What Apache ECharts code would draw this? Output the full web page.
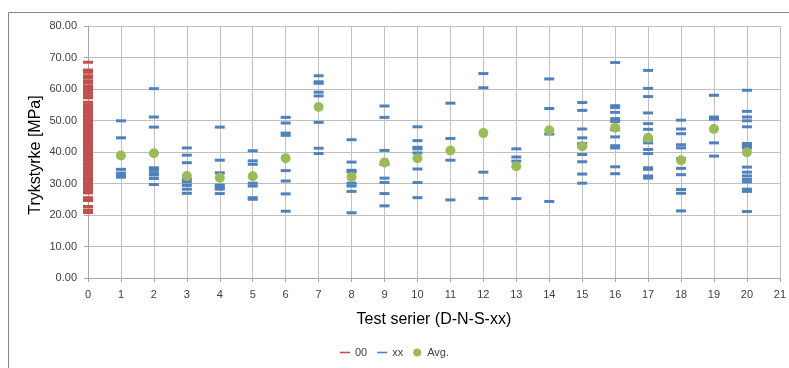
<!DOCTYPE html>
<html>
<head>
<meta charset="utf-8">
<script src="https://cdn.jsdelivr.net/npm/echarts@6/dist/echarts.min.js"></script>
<style>html,body{margin:0;padding:0;background:#fff}#c{width:789px;height:368px}</style>
</head>
<body>
<div id="c"></div>
<script>
// ---- data ----
var seriesNames = ['00', 'xx', 'Avg.'];
var yTitle = 'Trykstyrke [MPa]';
var xTitle = 'Test serier (D-N-S-xx)';
var yTicks = [0, 10, 20, 30, 40, 50, 60, 70, 80];
var xTicks = [0,1,2,3,4,5,6,7,8,9,10,11,12,13,14,15,16,17,18,19,20,21];

var ref00 = [68.5, 66.0, 65.3, 64.2, 63.6, 62.6, 62.0, 61.0, 60.4, 59.6, 58.8, 57.9, 57.2,
  55.8, 55.0, 54.2, 53.4, 52.6, 51.8, 51.0, 50.2, 49.4, 48.6, 47.8, 47.0, 46.2, 45.4, 44.6,
  43.8, 43.0, 42.2, 41.4, 40.6, 39.8, 39.0, 38.2, 37.4, 36.6, 35.8, 35.0, 34.2, 33.4, 32.6,
  31.8, 31.0, 30.2, 29.4, 28.6, 27.8, 27.0, 25.5, 24.6, 22.7, 21.6, 20.8];

var xx1 = [49.9, 44.5, 34.5, 33.3, 32.5, 32.0];
var xx2 = [60.1, 51.1, 47.9, 35.0, 34.3, 33.4, 32.7, 31.6, 29.7];
var xx3 = [41.3, 39.0, 36.6, 31.3, 30.5, 29.4, 28.2, 26.9];
var xx4 = [47.9, 37.4, 33.4, 29.5, 28.9, 28.2, 26.8];
var xx5 = [40.4, 37.2, 36.1, 30.1, 29.2, 25.5, 25.0];
var xx6 = [51.0, 49.2, 46.0, 45.3, 34.1, 30.8, 26.7, 21.2];
var xx7 = [64.2, 62.3, 61.8, 59.0, 57.8, 49.4, 41.2, 39.5];
var xx8 = [43.9, 36.8, 34.2, 33.7, 30.1, 29.2, 27.5, 20.7];
var xx9 = [54.6, 51.0, 40.5, 36.1, 31.7, 30.3, 26.8, 22.9];
var xx10 = [48.0, 43.6, 41.5, 41.0, 39.7, 34.6, 30.3, 25.5];
var xx11 = [55.5, 44.3, 37.4, 24.8];
var xx12 = [64.9, 60.4, 33.6, 25.3];
var xx13 = [41.0, 38.4, 37.1, 25.2];
var xx14 = [63.2, 53.8, 45.7, 24.3];
var xx15 = [55.7, 53.2, 47.3, 44.5, 42.7, 41.8, 39.2, 36.9, 33.0, 30.1];
var xx16 = [68.4, 54.7, 54.1, 52.6, 50.6, 49.7, 47.1, 44.8, 42.0, 41.3, 35.3, 33.1];
var xx17 = [65.9, 60.2, 57.6, 52.4, 49.0, 47.2, 43.9, 42.9, 40.8, 39.5, 35.0, 34.5, 32.4, 31.7];
var xx18 = [50.1, 47.3, 45.8, 42.3, 41.3, 37.9, 34.8, 32.8, 28.1, 26.9, 21.3];
var xx19 = [58.0, 51.1, 50.4, 42.9, 38.7];
var xx20 = [59.6, 52.9, 51.1, 49.9, 48.0, 42.7, 42.0, 41.3, 35.2, 33.6, 32.4, 31.3, 30.5, 28.2, 27.5, 21.1];

var avgX = [1,2,3,4,5,6,7,8,9,10,11,12,13,14,15,16,17,18,19,20];
var avgY = [38.9, 39.6, 32.4, 31.8, 32.3, 38.0, 54.3, 32.1, 36.7, 38.0, 40.5, 46.0, 35.5, 46.9, 41.8, 47.7, 44.5, 37.4, 47.3, 39.9];

// ---- build ----
var groups = [xx1,xx2,xx3,xx4,xx5,xx6,xx7,xx8,xx9,xx10,xx11,xx12,xx13,xx14,xx15,xx16,xx17,xx18,xx19,xx20];
var redPts = ref00.map(function(v){ return [0, v]; });
var bluePts = [];
groups.forEach(function(g, i){ g.forEach(function(v){ bluePts.push([i + 1, v]); }); });
var avgPts = avgX.map(function(x, i){ return [x, avgY[i]]; });

var FONT = 'Liberation Sans';
var dashIcon = 'path://M0,0 M0,3.2 L10,3.2 L10,4.8 L0,4.8 Z M10,8';

var chart = echarts.init(document.getElementById('c'), null, {renderer: 'canvas'});
chart.setOption({
  animation: false,
  backgroundColor: '#fff',
  textStyle: {fontFamily: FONT},
  graphic: [{
    type: 'rect', silent: true,
    shape: {x: 8.5, y: 12.5, width: 800, height: 400},
    style: {fill: 'none', stroke: '#868686', lineWidth: 1}
  }, {
    type: 'text', silent: true, x: 36, y: 155, rotation: Math.PI / 2,
    style: {text: yTitle, fontFamily: FONT, fontSize: 16, fill: '#000', align: 'center', verticalAlign: 'middle'}
  }],
  grid: {left: 88, right: 6, top: 26, bottom: 90},
  legend: {
    bottom: 5, left: 'center',
    itemWidth: 10, itemHeight: 8, itemGap: 10,
    textStyle: {fontFamily: FONT, fontSize: 11, color: '#404040'},
    data: [
      {name: seriesNames[0], icon: dashIcon},
      {name: seriesNames[1], icon: dashIcon},
      {name: seriesNames[2], icon: 'circle'}
    ]
  },
  xAxis: {
    type: 'value', min: 0, max: 21, interval: 1,
    name: xTitle, nameLocation: 'middle', nameGap: 34,
    nameTextStyle: {fontFamily: FONT, fontSize: 16, color: '#000'},
    axisLine: {show: true, onZero: false, lineStyle: {color: '#a6a6a6'}},
    axisTick: {show: true, length: 4, lineStyle: {color: '#a6a6a6'}},
    axisLabel: {fontFamily: FONT, fontSize: 11, color: '#404040', margin: 11,
      formatter: function(v){ return xTicks.indexOf(v) >= 0 ? String(v) : ''; }},
    splitLine: {show: true, lineStyle: {color: '#bfbfbf'}}
  },
  yAxis: {
    type: 'value', min: 0, max: 80, interval: 10,
    axisLine: {show: true, lineStyle: {color: '#a6a6a6'}},
    axisTick: {show: true, length: 4, lineStyle: {color: '#a6a6a6'}},
    axisLabel: {fontFamily: FONT, fontSize: 11, color: '#404040', margin: 11,
      formatter: function(v){ return yTicks.indexOf(v) >= 0 ? v.toFixed(2) : ''; }},
    splitLine: {show: true, lineStyle: {color: '#bfbfbf'}}
  },
  series: [
    {name: seriesNames[0], type: 'scatter', data: redPts, symbol: 'rect', symbolSize: [10, 3],
      itemStyle: {color: '#C0504D', opacity: 1}, z: 3},
    {name: seriesNames[1], type: 'scatter', data: bluePts, symbol: 'rect', symbolSize: [10, 3],
      itemStyle: {color: '#4F81BD', opacity: 1}, z: 3},
    {name: seriesNames[2], type: 'scatter', data: avgPts, symbol: 'circle', symbolSize: 10,
      itemStyle: {color: '#9BBB59', opacity: 1}, z: 4}
  ]
});
</script>
</body>
</html>
